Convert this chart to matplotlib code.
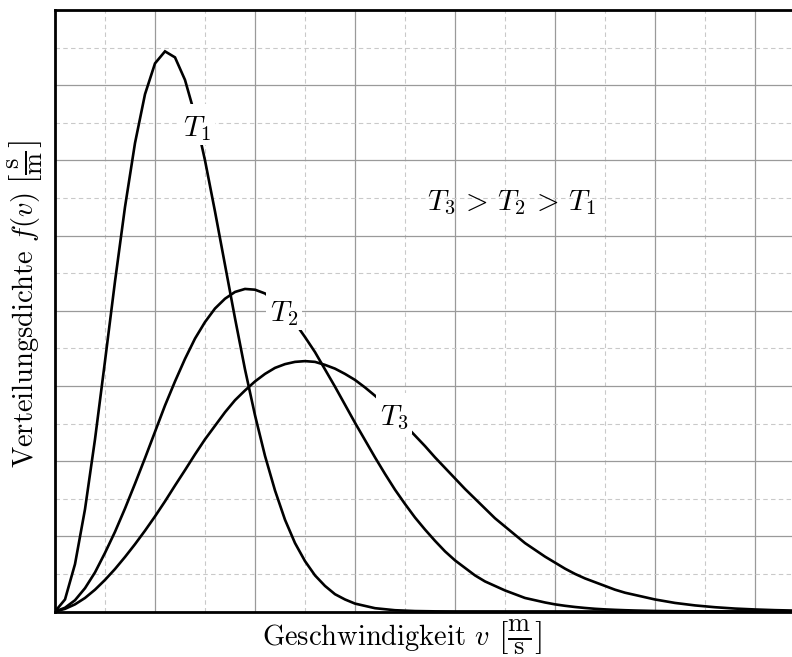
import matplotlib
matplotlib.use("Agg")
import numpy as np
import matplotlib.pyplot as plt
from matplotlib.patches import Rectangle

plt.rcParams['font.family'] = 'cmr10'
plt.rcParams['mathtext.fontset'] = 'cm'
plt.rcParams['axes.formatter.use_mathtext'] = True

# Speed distributions for three temperatures (grid units)
v_t1 = [0.0, 0.1, 0.2, 0.3, 0.4, 0.5, 0.6, 0.7, 0.8, 0.9, 1.0, 1.1, 1.2, 1.3,
        1.4, 1.5, 1.6, 1.7, 1.8, 1.9, 2.0, 2.1, 2.2, 2.3, 2.4, 2.5, 2.6, 2.7,
        2.8, 2.9, 3.0, 3.2, 3.4, 3.6, 3.8, 4.0, 8.0]
f_t1 = [0.0, 0.16, 0.63, 1.36, 2.29, 3.33, 4.39, 5.38, 6.23, 6.88, 7.29, 7.45,
        7.37, 7.07, 6.60, 6.00, 5.32, 4.61, 3.90, 3.22, 2.61, 2.07, 1.61, 1.22,
        0.91, 0.67, 0.48, 0.34, 0.23, 0.16, 0.105, 0.044, 0.017, 0.006, 0.002,
        0.001, 0.0]

v_t23 = [0.0, 0.1, 0.2, 0.3, 0.4, 0.5, 0.6, 0.7, 0.8, 0.9,
         1.0, 1.1, 1.2, 1.3, 1.4, 1.5, 1.6, 1.7, 1.8, 1.9,
         2.0, 2.1, 2.2, 2.3, 2.4, 2.5, 2.6, 2.7, 2.8, 2.9,
         3.0, 3.1, 3.2, 3.3, 3.4, 3.5, 3.6, 3.7, 3.8, 3.9,
         4.0, 4.1, 4.2, 4.3, 4.4, 4.5, 4.6, 4.7, 4.8, 4.9,
         5.0, 5.1, 5.2, 5.3, 5.4, 5.5, 5.6, 5.7, 5.8, 5.9,
         6.0, 6.2, 6.4, 6.6, 6.8, 7.0, 7.2, 7.4, 7.6, 7.8, 8.0]
f_t2 = [0.0, 0.05, 0.15, 0.31, 0.52, 0.78, 1.06, 1.37, 1.70, 2.04,
        2.39, 2.74, 3.06, 3.36, 3.63, 3.85, 4.03, 4.16, 4.25, 4.29,
        4.28, 4.23, 4.13, 4.00, 3.84, 3.65, 3.45, 3.22, 2.99, 2.75,
        2.51, 2.28, 2.05, 1.83, 1.62, 1.43, 1.25, 1.09, 0.94, 0.80,
        0.68, 0.58, 0.48, 0.40, 0.34, 0.28, 0.23, 0.18, 0.15, 0.12,
        0.095, 0.076, 0.060, 0.047, 0.036, 0.028, 0.022, 0.017, 0.013, 0.010,
        0.007, 0.004, 0.002, 0.001, 0.0005, 0.0, 0.0, 0.0, 0.0, 0.0, 0.0]
f_t3 = [0.0, 0.035, 0.095, 0.18, 0.29, 0.42, 0.565, 0.725, 0.895, 1.075,
        1.265, 1.465, 1.675, 1.88, 2.09, 2.29, 2.47, 2.65, 2.81, 2.94,
        3.06, 3.16, 3.24, 3.29, 3.32, 3.33, 3.32, 3.28, 3.23, 3.16,
        3.08, 2.98, 2.87, 2.75, 2.62, 2.48, 2.34, 2.20, 2.05, 1.91,
        1.77, 1.63, 1.50, 1.37, 1.24, 1.13, 1.02, 0.91, 0.82, 0.73,
        0.65, 0.57, 0.50, 0.44, 0.39, 0.34, 0.29, 0.25, 0.22, 0.19,
        0.16, 0.114, 0.081, 0.057, 0.039, 0.027, 0.018, 0.012, 0.008, 0.005,
        0.003]

curve_names = [r'$T_1$', r'$T_2$', r'$T_3$']
label_speeds = [1.42, 2.29, 3.39]

fig = plt.figure(figsize=(7.92, 6.57), dpi=100)
ax = fig.add_axes([55 / 792, 45.5 / 657, 800 / 792, 601.5 / 657])
ax.set_xlim(0, 8)
ax.set_ylim(0, 8)

ax.set_xticks(np.arange(0, 9, 1))
ax.set_yticks(np.arange(0, 9, 1))
ax.set_xticks(np.arange(0.5, 8, 1), minor=True)
ax.set_yticks(np.arange(0.5, 8, 1), minor=True)
ax.tick_params(which='both', length=0, labelbottom=False, labelleft=False)
ax.grid(which='major', color='#9a9a9a', lw=0.9, zorder=0)
ax.grid(which='minor', color='#c9c9c9', lw=0.8, ls=(0, (4, 3)), zorder=0)
ax.set_axisbelow(True)

for side in ['left', 'bottom', 'top']:
    ax.spines[side].set_linewidth(2.0)
    ax.spines[side].set_zorder(5)
ax.spines['right'].set_visible(False)

series = [(v_t1, f_t1), (v_t23, f_t2), (v_t23, f_t3)]
for (vx, fy) in series:
    ax.plot(vx, fy, color='black', lw=1.9, solid_joinstyle='miter', zorder=3)

# Curve labels sit on the curve with a white box that hides the line beneath
box_w, box_h = 0.36, 0.54
for (vx, fy), name, vl in zip(series, curve_names, label_speeds):
    yl = float(np.interp(vl, vx, fy))
    ax.add_patch(Rectangle((vl - box_w / 2, yl - box_h / 2), box_w, box_h,
                           facecolor='white', edgecolor='none', zorder=4))
    ax.annotate(name, (vl, yl), xytext=(0, -3), textcoords='offset points',
                ha='center', va='center', fontsize=21, zorder=6)

ax.text(4.56, 5.43, r'$T_3\,>\,T_2\,>\,T_1$', ha='center', va='center',
        fontsize=21, zorder=6)

# Axis titles with unit brackets
xt = fig.text(262 / 792, 1 - 645 / 657, r'Geschwindigkeit $v$',
              fontsize=20.5, ha='left', va='baseline')
ax.annotate(r'$\left[\frac{\mathrm{m}}{\mathrm{s}}\right]$', xy=(1, 0.5),
            xycoords=xt, xytext=(6, 0), textcoords='offset points',
            ha='left', va='center', fontsize=27, annotation_clip=False)

yt = fig.text(33 / 792, 1 - 468 / 657, r'Verteilungsdichte $f(v)$',
              fontsize=20.5, rotation=90, rotation_mode='anchor',
              ha='left', va='baseline')
ax.annotate(r'$\left[\frac{\mathrm{s}}{\mathrm{m}}\right]$', xy=(0.5, 1),
            xycoords=yt, xytext=(0, 6), textcoords='offset points',
            ha='center', va='bottom', rotation=90, fontsize=27,
            annotation_clip=False)

fig.savefig('out.png', dpi=100)
